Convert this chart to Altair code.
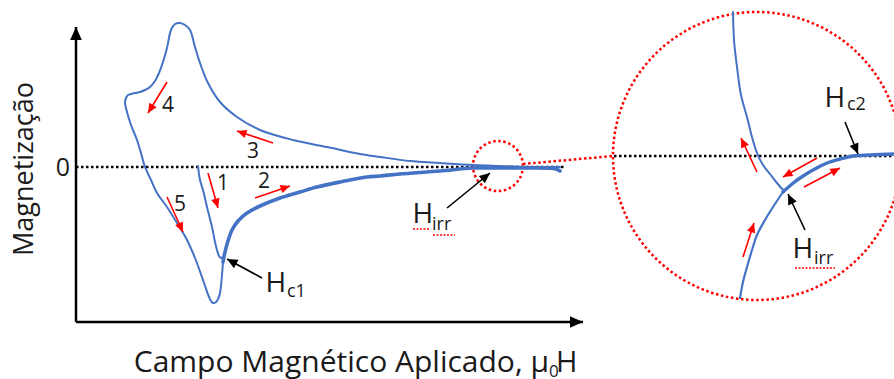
import math
import altair as alt
import pandas as pd

W, H = 894, 379

# ---------------- data (diagram units: x = field, y = magnetization drawn downward) -------------
# upper branch (3 -> 4) from high field back to the left corner
up_x = [560, 530, 500, 473, 440, 410, 380, 360, 327, 293, 260, 237, 220, 208, 200, 195, 190, 185, 180, 175, 171, 167, 163, 159, 155, 150, 145, 140, 135, 131, 128, 126]
up_y = [167, 167, 166, 165, 163, 161, 157, 154, 147, 140, 130, 117, 102, 83, 63, 47, 30, 25, 23, 24, 30, 48, 62, 73, 81, 87, 90, 92, 93, 94, 95, 98]
# descending branch 5 and the turn at the minimum
dn_x = [126, 125, 127, 131, 137, 141, 145, 151, 157, 167, 177, 187, 195, 203, 209, 211, 213, 216, 218, 220, 222, 223]
dn_y = [98, 102, 112, 125, 140, 153, 167, 180, 193, 207, 223, 240, 258, 280, 297, 301, 303, 302, 299, 293, 275, 262]
# ascending branch 2 (drawn thicker)
as_x = [223, 225, 228, 232, 238, 247, 260, 280, 300, 317, 340, 367, 380, 400, 440, 473, 500, 530, 556, 560]
as_y = [262, 252, 241, 230, 221, 213, 206, 198, 192, 187, 182, 177, 176, 174, 171, 168, 168, 168, 169, 171]
# virgin curve (branch 1)
vg_x = [198, 200, 203, 207, 212, 215, 217, 219, 221, 223, 225]
vg_y = [166, 180, 190, 207, 227, 242, 250, 256, 258, 257, 253]

# magnified view
zu_x = [733, 734, 737, 741, 747, 752, 757, 763, 770, 777, 783]
zu_y = [12, 40, 67, 95, 117, 137, 153, 165, 174, 183, 190]
zl_x = [740, 743, 747, 752, 757, 765, 773, 783]
zl_y = [298, 282, 267, 250, 235, 220, 207, 192]
zr_x = [783, 792, 800, 813, 827, 840, 853, 870, 894]
zr_y = [192, 184, 178, 170, 163, 159, 156, 155, 154]

# red direction arrows (tail -> tip)
ra_x1 = [167, 273, 208, 255, 167, 757, 817, 804, 743]
ra_y1 = [82, 143, 173, 198, 197, 172, 158, 187, 257]
ra_x2 = [148, 237, 218, 290, 183, 741, 783, 840, 754]
ra_y2 = [113, 131, 208, 186, 232, 138, 177, 168, 223]

# black pointer arrows (tail -> tip)
ba_x1 = [262, 447, 845, 805]
ba_y1 = [278, 208, 122, 230]
ba_x2 = [227, 490, 858, 788]
ba_y2 = [259, 173, 154, 194]

# axes (tail -> tip)
ax_x1 = [76, 76]
ax_y1 = [322, 322]
ax_x2 = [76, 583]
ax_y2 = [27, 322]

# zero lines
z_x1 = [76, 614]
z_x2 = [565, 894]
z_y = [167, 156]

# magnifier circles and connector
circ_x = [498, 757]
circ_y = [166, 156]
circ_d = [50, 288]
con_x = [523, 613]
con_y = [164, 156]

# labels
num_text = ["4", "3", "1", "2", "5"]
num_x = [168, 253, 223, 264, 180]
num_y = [106, 152, 184, 182, 205]

h_x = [265.5, 412.5, 824.5, 792.5]
h_y = [292, 223, 107, 258]
sub_text = ["c1", "irr", "c2", "irr"]
sub_x = [287, 432, 847, 814]
sub_y = [297, 230, 110, 264]

sq_x1 = [413, 433, 795]
sq_x2 = [430, 455, 835]
sq_y = [229, 235, 268]

# ---------------- helpers ----------------
XS = alt.Scale(domain=[0, W], nice=False, zero=False)
YS = alt.Scale(domain=[0, H], nice=False, zero=False, reverse=True)
FONT = "Open Sans"
BLUE = "#4472C4"
RED = "#FF0000"
INK = "#1a1a1a"


def enc(**kw):
    d = dict(x=alt.X("x:Q", scale=XS, axis=None), y=alt.Y("y:Q", scale=YS, axis=None))
    d.update(kw)
    return d


def line_df(xs, ys):
    return pd.DataFrame({"x": xs, "y": ys, "o": range(len(xs))})


def curve(xs, ys, width):
    return alt.Chart(line_df(xs, ys)).mark_line(color=BLUE, strokeWidth=width, strokeCap="round",
                                                 strokeJoin="round", interpolate="catmull-rom").encode(
        **enc(order="o:Q"))


def arrows(x1, y1, x2, y2, color, lw, head):
    df = pd.DataFrame({"x": x1, "y": y1, "x2": x2, "y2": y2})
    df["ang"] = [(math.degrees(math.atan2(b - a, -(d - c))) + 360) % 360
                 for a, b, c, d in zip(df.x, df.x2, df.y, df.y2)]
    shafts = alt.Chart(df).mark_rule(color=color, strokeWidth=lw).encode(
        **enc(x2="x2:Q", y2="y2:Q"))
    heads = alt.Chart(df).mark_point(shape="M0,0L0.45,1L-0.45,1Z", filled=True, color=color,
                                     opacity=1, size=head, strokeWidth=0).encode(
        x=alt.X("x2:Q", scale=XS, axis=None), y=alt.Y("y2:Q", scale=YS, axis=None),
        angle=alt.Angle("ang:Q", scale=None))
    return shafts + heads


def label(x, y, t, size, **kw):
    df = pd.DataFrame({"x": x, "y": y, "t": t})
    return alt.Chart(df).mark_text(font=FONT, fontSize=size, color=INK, **kw).encode(**enc(text="t:N"))


layers = []

# zero lines
zdf = pd.DataFrame({"x": z_x1, "x2": z_x2, "y": z_y})
layers.append(alt.Chart(zdf).mark_rule(color="black", strokeWidth=2.5, strokeDash=[2.5, 2.5]).encode(
    **enc(x2="x2:Q")))

# magnifier
cdf = pd.DataFrame({"x": circ_x, "y": circ_y, "d": circ_d})
cdf["s"] = cdf["d"] ** 2
layers.append(alt.Chart(cdf).mark_point(shape="circle", filled=False, color=RED, strokeWidth=2.5,
                                        strokeDash=[2.5, 2.6], opacity=1).encode(
    **enc(size=alt.Size("s:Q", scale=None))))
layers.append(alt.Chart(line_df(con_x, con_y)).mark_line(color=RED, strokeWidth=2.5,
                                                         strokeDash=[2.5, 2.6]).encode(**enc(order="o:Q")))

# curves
layers.append(curve(up_x, up_y, 2))
layers.append(curve(dn_x, dn_y, 2))
layers.append(curve(vg_x, vg_y, 2))
layers.append(curve(as_x, as_y, 3.6))
layers.append(curve(zu_x, zu_y, 2))
layers.append(curve(zl_x, zl_y, 2.2))
layers.append(curve(zr_x, zr_y, 3.4))

# axes
layers.append(arrows(ax_x1, ax_y1, ax_x2, ax_y2, "black", 2.5, 676))
# arrows
layers.append(arrows(ra_x1, ra_y1, ra_x2, ra_y2, RED, 1.6, 360))
layers.append(arrows(ba_x1, ba_y1, ba_x2, ba_y2, "black", 1.6, 440))

# red squiggles
sdf = pd.DataFrame({"x": sq_x1, "x2": sq_x2, "y": sq_y})
layers.append(alt.Chart(sdf).mark_rule(color=RED, strokeWidth=1.3, strokeDash=[2, 1.5]).encode(
    **enc(x2="x2:Q")))

# numbers
layers.append(label(num_x, num_y, num_text, 21))

# H labels
layers.append(label(h_x, h_y, ["H"] * len(h_x), 28, align="left", baseline="alphabetic"))
layers.append(label(sub_x, sub_y, sub_text, 18, align="left", baseline="alphabetic"))

# axis texts
layers.append(label([63], [168], ["0"], 25))
layers.append(label([25], [169], ["Magnetização"], 27, angle=270))
layers.append(label([549], [372], ["Campo Magnético Aplicado, μ"], 30, align="right", baseline="alphabetic"))
layers.append(label([549], [377], ["0"], 17, align="left", baseline="alphabetic"))
layers.append(label([556], [372], ["H"], 29, align="left", baseline="alphabetic"))

chart = alt.layer(*layers).properties(
    width=W, height=H, padding=0, autosize=alt.AutoSizeParams(type="none"),
    background="white"
).configure_view(stroke=None)

chart.save("out.html", embed_options={"renderer": "svg", "actions": False})
